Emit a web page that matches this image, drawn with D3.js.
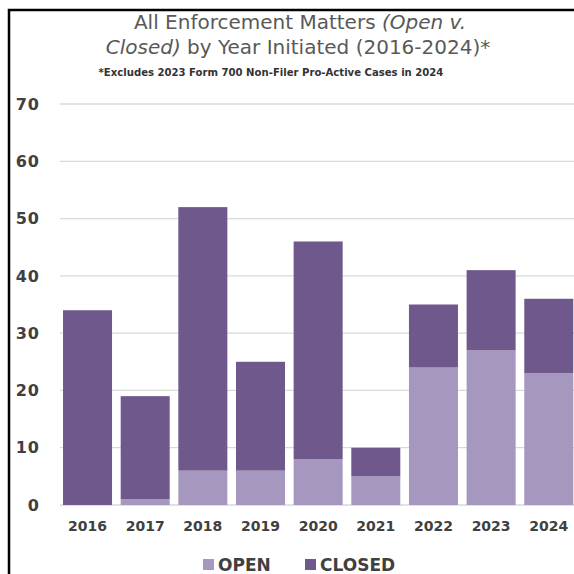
<!DOCTYPE html>
<html>
<head>
<meta charset="utf-8">
<script src="https://cdn.jsdelivr.net/npm/d3@7"></script>
<style>
  body { margin: 0; background: #fff; }
  text { font-family: "DejaVu Sans", sans-serif; }
</style>
</head>
<body>
<div id="chart"></div>
<script>
// Data
const years = ["2016", "2017", "2018", "2019", "2020", "2021", "2022", "2023", "2024"];
const openCases = [0, 1, 6, 6, 8, 5, 24, 27, 23];
const closedCases = [34, 18, 46, 19, 38, 5, 11, 14, 13];
const yTicks = [0, 10, 20, 30, 40, 50, 60, 70];
const seriesNames = ["OPEN", "CLOSED"];

const width = 574;
const height = 574;
const colors = { OPEN: "#a597be", CLOSED: "#6e588c" };

const svg = d3.select("#chart").append("svg")
    .attr("width", width)
    .attr("height", height);

// frame (top + left edges only)
svg.append("path")
    .attr("d", "M9,574 V10 H574")
    .attr("fill", "none")
    .attr("stroke", "#000")
    .attr("stroke-width", 2.5);

const x = d3.scaleBand()
    .domain(years)
    .range([58.7, 577.6])
    .paddingInner(0.15)
    .paddingOuter(0.075);

const y = d3.scaleLinear()
    .domain([0, 70])
    .range([505, 104]);

// gridlines
svg.append("g").selectAll("line")
    .data(yTicks)
    .enter().append("line")
    .attr("x1", 60)
    .attr("x2", width)
    .attr("y1", d => y(d))
    .attr("y2", d => y(d))
    .attr("stroke", "#d9d9d9")
    .attr("stroke-width", 1.3);

// y labels
svg.append("g").selectAll("text")
    .data(yTicks)
    .enter().append("text")
    .attr("x", 40)
    .attr("y", d => y(d))
    .attr("dy", "0.36em")
    .attr("text-anchor", "end")
    .attr("font-size", 16)
    .attr("letter-spacing", 1)
    .attr("font-weight", "bold")
    .attr("fill", "#404040")
    .text(d => d);

// stacked bars
const rows = years.map((yr, i) => ({ year: yr, OPEN: openCases[i], CLOSED: closedCases[i] }));
const stacked = d3.stack().keys(seriesNames)(rows);

svg.append("g").selectAll("g")
    .data(stacked)
    .enter().append("g")
    .attr("fill", d => colors[d.key])
    .selectAll("rect")
    .data(d => d)
    .enter().append("rect")
    .attr("x", d => x(d.data.year))
    .attr("width", x.bandwidth())
    .attr("y", d => y(d[1]))
    .attr("height", d => y(d[0]) - y(d[1]));

// x labels
svg.append("g").selectAll("text")
    .data(years)
    .enter().append("text")
    .attr("x", d => x(d) + x.bandwidth() / 2)
    .attr("y", 531)
    .attr("text-anchor", "middle")
    .attr("font-size", 14)
    .attr("font-weight", "bold")
    .attr("fill", "#404040")
    .text(d => d);

// title
const title = svg.append("text")
    .attr("x", 300)
    .attr("y", 29)
    .attr("text-anchor", "middle")
    .attr("font-size", 20)
    .attr("fill", "#595959");
title.append("tspan").text("All Enforcement Matters ");
title.append("tspan").attr("font-style", "italic").text("(Open v.");

const title2 = svg.append("text")
    .attr("x", 298)
    .attr("y", 54)
    .attr("text-anchor", "middle")
    .attr("font-size", 20)
    .attr("fill", "#595959");
title2.append("tspan").attr("font-style", "italic").text("Closed)");
title2.append("tspan").text(" by Year Initiated (2016-2024)*");

svg.append("text")
    .attr("x", 271)
    .attr("y", 76)
    .attr("text-anchor", "middle")
    .attr("font-size", 10.1)
    .attr("font-weight", "bold")
    .attr("fill", "#333")
    .text("*Excludes 2023 Form 700 Non-Filer Pro-Active Cases in 2024");

// legend
const legendX = [203, 305];
const legend = svg.append("g").selectAll("g")
    .data(seriesNames)
    .enter().append("g")
    .attr("transform", (d, i) => "translate(" + legendX[i] + ",559)");

legend.append("rect")
    .attr("width", 11)
    .attr("height", 11)
    .attr("fill", d => colors[d]);

legend.append("text")
    .attr("x", 15)
    .attr("y", 12)
    .attr("font-size", 17)
    .attr("font-weight", "bold")
    .attr("fill", "#404040")
    .text(d => d);
</script>
</body>
</html>
